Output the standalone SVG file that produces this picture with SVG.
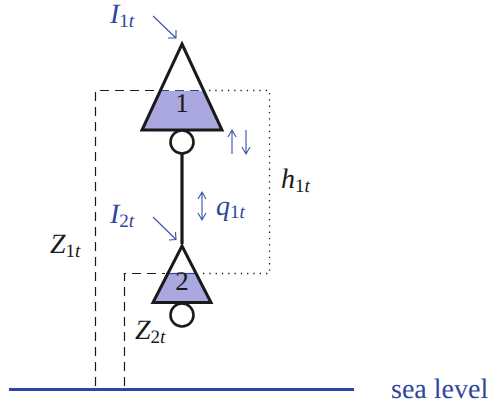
<svg xmlns="http://www.w3.org/2000/svg" width="494" height="407" viewBox="0 0 494 407">
<style>
text{font-family:"Liberation Serif",serif;text-rendering:geometricPrecision}
.b{fill:#2f46a0}.k{fill:#1a1a1a}
.it{font-style:italic;font-size:28px}
.sub{font-size:19px}
.tri{fill:none;stroke:#1a1a1a;stroke-width:3;stroke-linejoin:miter}
.w{fill:#aaa8de;stroke:none}
.dash{fill:none;stroke:#1a1a1a;stroke-width:1.2;stroke-dasharray:9 6}
.dot{fill:none;stroke:#1a1a1a;stroke-width:1.3;stroke-dasharray:1.3 5}
.arr{fill:none;stroke:#3a52a8;stroke-width:1.100}
.circ{fill:#fff;stroke:#1a1a1a;stroke-width:2.6}
</style>
<g id="connectors">
<path class="dash" d="M95.500 386V90.500H160"/>
<path class="dash" d="M124.500 386V273.500H165"/>
<path class="dot" d="M209 90.500H269.500V273.500H200"/>
<path d="M182 154V244" fill="none" stroke="#1a1a1a" stroke-width="3.200"/>
<path d="M9 389.500H354" fill="none" stroke="#2f46a0" stroke-width="3"/>
<path class="arr" d="M153 16L176 38M168 38L176 38L176 30"/>
<path class="arr" d="M153 217L176 239.500M169 240L176 239.500L175.500 232"/>
<path class="arr" d="M232 154V130M228 137L232 130L236 137"/>
<path class="arr" d="M246 130V154M242 147L246 154L250 147"/>
<path class="arr" d="M202 192V220M198 199L202 192L206 199M198 213L202 220L206 213"/>
</g>
<g id="node1">
<path class="w" d="M160 91H204L222 130H142Z"/>
<path d="M160 90.500H204" stroke="#2f46a0" stroke-width="1.200" stroke-dasharray="9 6" fill="none"/>
<path class="tri" d="M182 44L222 130H142Z"/>
<circle class="circ" cx="182" cy="142" r="11.500"/>
<text class="k" x="182" y="112" font-size="27" text-anchor="middle">1</text>
</g>
<g id="node2">
<path class="w" d="M166 274H197L211 302H153Z"/>
<path d="M166 273.500H197" stroke="#2f46a0" stroke-width="1.200" fill="none"/>
<path class="tri" d="M182 246L211 302.500H153Z"/>
<circle class="circ" cx="182" cy="315" r="11.500"/>
<text class="k" x="182" y="290" font-size="27" text-anchor="middle">2</text>
</g>
<g id="labels">
<text class="b it" x="110" y="23">I<tspan class="sub" font-style="normal" dy="4">1</tspan><tspan class="sub">t</tspan></text>
<text class="b it" x="110" y="223">I<tspan class="sub" font-style="normal" dy="4">2</tspan><tspan class="sub">t</tspan></text>
<text class="b it" x="216" y="215">q<tspan class="sub" font-style="normal" dy="3">1</tspan><tspan class="sub">t</tspan></text>
<text class="k it" x="50" y="253">Z<tspan class="sub" font-style="normal" dy="4">1</tspan><tspan class="sub">t</tspan></text>
<text class="k it" x="135" y="339">Z<tspan class="sub" font-style="normal" dy="4">2</tspan><tspan class="sub">t</tspan></text>
<text class="k it" x="281" y="188">h<tspan class="sub" font-style="normal" dy="4">1</tspan><tspan class="sub">t</tspan></text>
<text class="b" x="391" y="398" font-size="28">sea level</text>
</g>
</svg>
